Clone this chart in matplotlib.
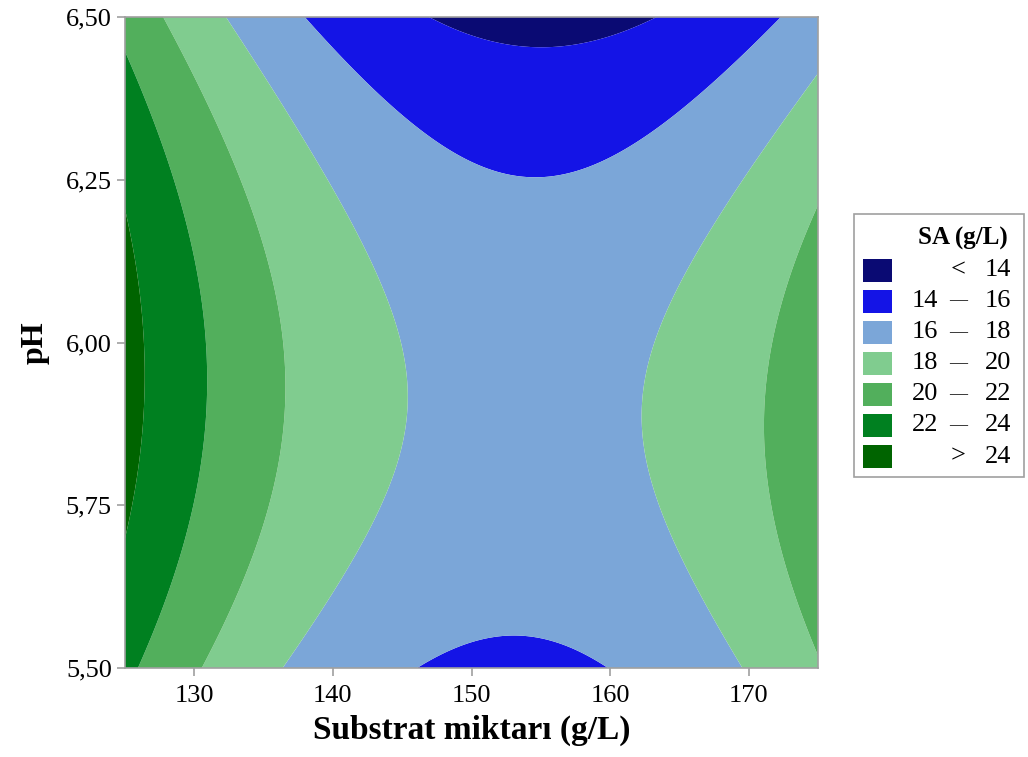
import numpy as np
import matplotlib
matplotlib.use("Agg")
import matplotlib.pyplot as plt
from matplotlib.patches import Rectangle

# ---- data (response-surface model, coded units) ----
x_range = [125, 175]          # Substrat miktarı (g/L)
y_range = [5.5, 6.5]          # pH
coef_names = ["b0", "bX", "bY", "bXX", "bYY", "bXY"]
coef_values = [17.41, -1.78, -1.01, 5.49, -2.76, -0.48]
levels = [14, 16, 18, 20, 22, 24]
x_ticks = [130, 140, 150, 160, 170]
y_ticks = [5.50, 5.75, 6.00, 6.25, 6.50]
y_tick_labels = ["5,50", "5,75", "6,00", "6,25", "6,50"]
colors = ["#0A0A73", "#1414E6", "#7BA6D8", "#80CC8F", "#52AF5C", "#008020", "#006400"]
legend_title = "SA (g/L)"

plt.rcParams['font.family'] = ['Liberation Serif', 'DejaVu Serif']

fig = plt.figure(figsize=(10.28, 7.57), dpi=100)
ax = fig.add_axes([125/1028, 1 - 668/757, 693/1028, 651/757])

xs = np.linspace(x_range[0], x_range[1], 700)
ys = np.linspace(y_range[0], y_range[1], 700)
XX, YY = np.meshgrid(xs, ys)
Xc = (XX - 150) / 25.0
Yc = (YY - 6.0) / 0.5
b = dict(zip(coef_names, coef_values))
Z = (b["b0"] + b["bX"] * Xc + b["bY"] * Yc + b["bXX"] * Xc**2
     + b["bYY"] * Yc**2 + b["bXY"] * Xc * Yc)

bounds = [-1e3] + levels + [1e3]
ax.contourf(XX, YY, Z, levels=bounds, colors=colors, antialiased=True)

ax.set_xlim(*x_range)
ax.set_ylim(*y_range)
ax.set_xticks(x_ticks)
ax.set_yticks(y_ticks)
ax.set_yticklabels(y_tick_labels)
for s in ax.spines.values():
    s.set_color("#A0A0A0")
    s.set_linewidth(1.2)
ax.tick_params(axis="both", colors="#A0A0A0", labelcolor="black",
               labelsize=19, length=6, width=1.2, direction="out")
ax.tick_params(axis="x", pad=6)
ax.set_xlabel("Substrat miktarı (g/L)", fontsize=24, fontweight="bold", labelpad=6)
ax.set_ylabel("pH", fontsize=23, fontweight="bold", labelpad=12)

# ---- legend drawn manually ----
def fx(px):
    return px / 1028.0

def fy(py):
    return 1 - py / 757.0

fig.patches.append(Rectangle((fx(854), fy(477)), fx(1024) - fx(854), fy(214) - fy(477),
                             transform=fig.transFigure, facecolor="white",
                             edgecolor="#A0A0A0", linewidth=1.2))
fig.text(fx(1008), fy(238), legend_title, ha="right", va="center",
         fontsize=18, fontweight="bold")
labels = []
labels.append(("", "<", str(levels[0])))
for lo, hi in zip(levels[:-1], levels[1:]):
    labels.append((str(lo), "\u2014", str(hi)))
labels.append(("", ">", str(levels[-1])))
row0 = 270
step = 31.1
for i, (lo, mid, hi) in enumerate(labels):
    yc = row0 + i * step
    fig.patches.append(Rectangle((fx(863), fy(yc + 11.5)), fx(29), 23 / 757.0,
                                 transform=fig.transFigure, facecolor=colors[i],
                                 edgecolor="none"))
    if lo:
        fig.text(fx(938), fy(yc), lo, ha="right", va="center", fontsize=19)
    fig.text(fx(958), fy(yc), mid, ha="center", va="center",
             fontsize=13 if mid == "\u2014" else 19)
    fig.text(fx(1011), fy(yc), hi, ha="right", va="center", fontsize=19)

fig.savefig("out.png", dpi=100)
